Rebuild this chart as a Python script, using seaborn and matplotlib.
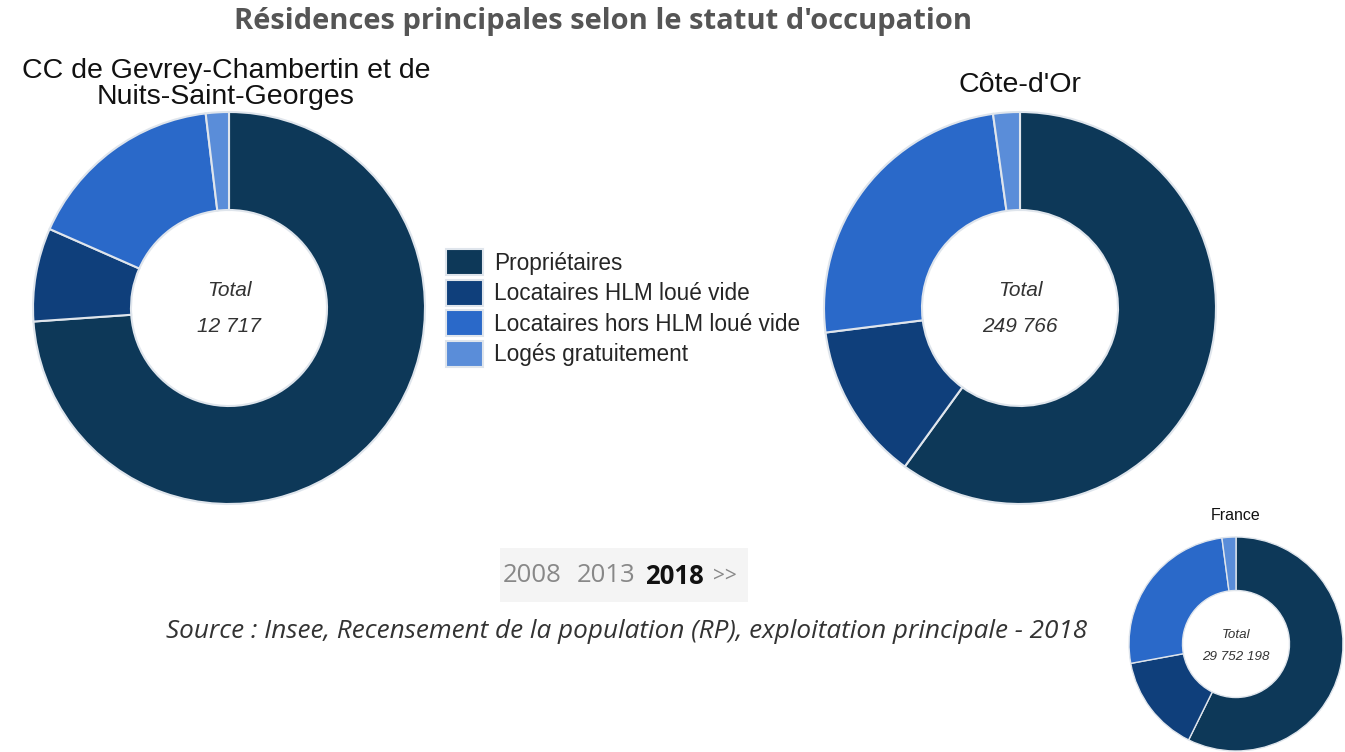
import matplotlib
matplotlib.use("Agg")
import matplotlib.pyplot as plt
from matplotlib.patches import Patch, Rectangle
import seaborn as sns

# Données (parts en %)
categories = ["Propriétaires", "Locataires HLM loué vide",
              "Locataires hors HLM loué vide", "Logés gratuitement"]
cc_values = [73.9, 7.7, 16.5, 1.9]
cote_dor_values = [60.0, 13.0, 24.8, 2.2]
france_values = [57.3, 14.8, 25.8, 2.1]
territories = ["CC de Gevrey-Chambertin et de\nNuits-Saint-Georges", "Côte-d'Or", "France"]
totals = ["12 717", "249 766", "29 752 198"]
years = ["2008", "2013", "2018"]
current_year = "2018"

colors = sns.color_palette(["#0d3858", "#0f3f7b", "#2a69c9", "#5a8dd9"])
EDGE = "#dfe5ec"
OPEN = ["Open Sans", "DejaVu Sans"]

sns.set_theme(style="white")
plt.rcParams["font.family"] = ["Liberation Sans", "DejaVu Sans"]

W, H = 1345, 752
fig = plt.figure(figsize=(W / 100, H / 100), dpi=100)
fig.patch.set_facecolor("white")


def fx(x):
    return x / W


def fy(y):
    return 1 - y / H


def donut(cx, cy, r, values, title, total, title_xy, title_size,
          center_size, center_off, lw):
    ax = fig.add_axes([(cx - r) / W, (H - cy - r) / H, 2 * r / W, 2 * r / H])
    ax.pie(values, colors=colors, startangle=90, counterclock=False, radius=1,
           wedgeprops=dict(width=0.5, edgecolor=EDGE, linewidth=lw))
    ax.set_xlim(-1, 1)
    ax.set_ylim(-1, 1)
    ax.set_aspect("equal")
    ax.axis("off")
    ax.text(0, center_off[0], "Total", ha="center", va="center", style="italic",
            fontsize=center_size, color="#333333")
    ax.text(0, center_off[1], total, ha="center", va="center", style="italic",
            fontsize=center_size, color="#333333")
    fig.text(fx(title_xy[0]), fy(title_xy[1]), title, ha="center", va="center",
             fontsize=title_size, color="#111111", linespacing=1.0)
    return ax


donut(229, 308, 196, cc_values, territories[0], totals[0], (226, 84), 20.5, 15,
      (0.09, -0.093), 1.5)
donut(1020, 308, 196, cote_dor_values, territories[1], totals[1], (1020, 85), 20.5, 15,
      (0.09, -0.093), 1.5)
donut(1236, 644, 107, france_values, territories[2], totals[2], (1236, 515), 11.5, 9.6,
      (0.085, -0.12), 1.0)

# Titre
fig.text(fx(603), fy(22), "Résidences principales selon le statut d'occupation",
         ha="center", va="center", fontsize=21, fontweight="bold",
         color="#555555", family=OPEN)

# Légende
handles = [Patch(facecolor=c, edgecolor=EDGE, linewidth=1.5) for c in colors]
fig.legend(handles, categories, loc="upper left",
           bbox_to_anchor=(fx(446), fy(249)), frameon=False,
           fontsize=16.3, handlelength=1.64, handleheight=1.39,
           labelspacing=0.2, handletextpad=0.5, borderpad=0, borderaxespad=0)

# Sélecteur d'année
fig.patches.append(Rectangle((fx(500), fy(602)), 248 / W, 54 / H,
                             transform=fig.transFigure, facecolor="#f4f4f4",
                             edgecolor="none"))
for y, x in zip(years, [503, 577, 645]):
    bold = y == current_year
    fig.text(fx(x), fy(576), y, ha="left", va="center", fontsize=18.5,
             fontweight="bold" if bold else "normal",
             color="#111111" if bold else "#888888", family=OPEN)
fig.text(fx(713), fy(576), ">>", ha="left", va="center", fontsize=15,
         color="#888888", family=OPEN)

# Source
fig.text(fx(627), fy(631),
         "Source : Insee, Recensement de la population (RP), exploitation principale - 2018",
         ha="center", va="center", fontsize=18.8, style="italic", color="#333333",
         family=OPEN)

fig.savefig("out.png", dpi=100)
